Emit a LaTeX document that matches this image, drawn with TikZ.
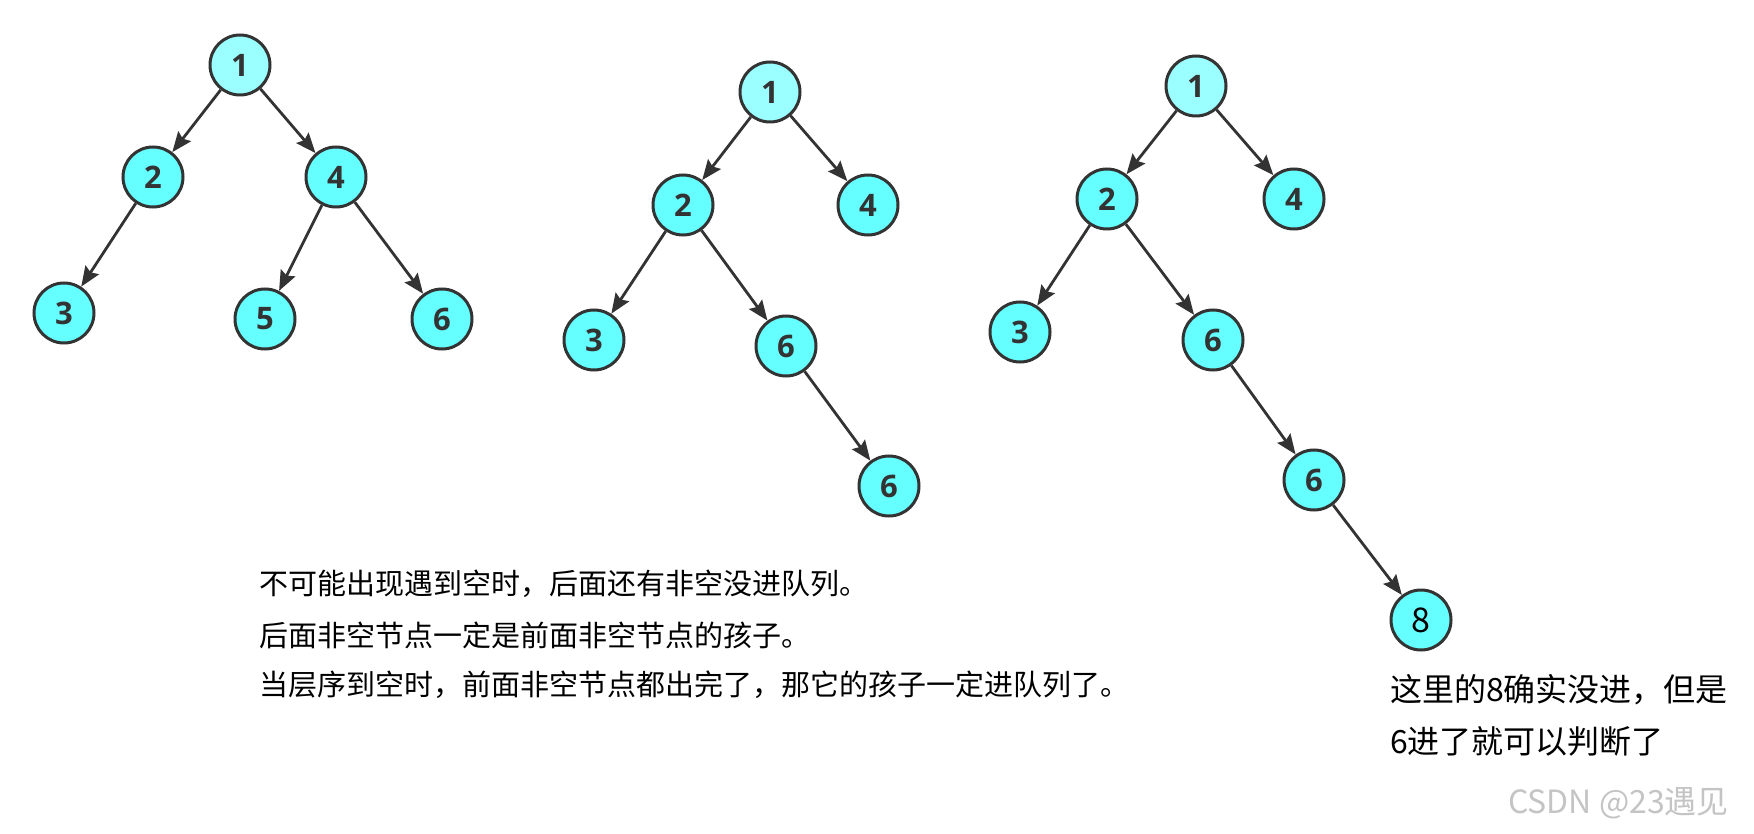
\documentclass[tikz,border=0pt]{standalone}
\usepackage{fontspec}
\setmainfont{Open Sans}
\newfontfamily\cjk{Noto Sans CJK SC}
\usetikzlibrary{arrows.meta}
\definecolor{nodecyan}{HTML}{66FFFF}
\definecolor{rootcyan}{HTML}{9CFFFF}
\definecolor{inkgrey}{HTML}{333333}
\definecolor{markgrey}{HTML}{C4C4C4}
\tikzset{
  treenode/.style={circle, draw=inkgrey, line width=3pt, fill=nodecyan, minimum size=60pt,
                   inner sep=0pt, text=inkgrey, font=\fontsize{31}{31}\selectfont\bfseries},
  rootnode/.style={treenode, fill=rootcyan},
  tarrow/.style={-{Stealth[length=20pt,width=16pt,inset=3pt]}, line width=2.8pt, color=inkgrey},
  notetext/.style={anchor=west, inner sep=0pt, text=black, font=\cjk\fontsize{29}{29}\selectfont}}

\begin{document}
\begin{tikzpicture}[x=1pt, y=-1pt]
  \useasboundingbox (0,0) rectangle (1754,834);
  % first tree
  \node[rootnode] (a1) at (240,65) {1};
  \node[treenode] (a2) at (153,177) {2};
  \node[treenode] (a4) at (336,177) {4};
  \node[treenode] (a3) at (64,313) {3};
  \node[treenode] (a5) at (265,319) {5};
  \node[treenode] (a6) at (442,319) {6};
  \draw[tarrow] (a1) -- (a2);
  \draw[tarrow] (a1) -- (a4);
  \draw[tarrow] (a2) -- (a3);
  \draw[tarrow] (a4) -- (a5);
  \draw[tarrow] (a4) -- (a6);
  % second tree
  \node[rootnode] (b1) at (770,92) {1};
  \node[treenode] (b2) at (683,205) {2};
  \node[treenode] (b4) at (868,205) {4};
  \node[treenode] (b3) at (594,340) {3};
  \node[treenode] (b6) at (786,346) {6};
  \node[treenode] (b7) at (889,486) {6};
  \draw[tarrow] (b1) -- (b2);
  \draw[tarrow] (b1) -- (b4);
  \draw[tarrow] (b2) -- (b3);
  \draw[tarrow] (b2) -- (b6);
  \draw[tarrow] (b6) -- (b7);
  % third tree
  \node[rootnode] (c1) at (1196,86) {1};
  \node[treenode] (c2) at (1107,199) {2};
  \node[treenode] (c4) at (1294,199) {4};
  \node[treenode] (c3) at (1020,332) {3};
  \node[treenode] (c6) at (1213,340) {6};
  \node[treenode] (c7) at (1314,480) {6};
  \node[treenode, font=\cjk\fontsize{34}{34}\selectfont, text=black] (c8) at (1421,620) {8};
  \draw[tarrow] (c1) -- (c2);
  \draw[tarrow] (c1) -- (c4);
  \draw[tarrow] (c2) -- (c3);
  \draw[tarrow] (c2) -- (c6);
  \draw[tarrow] (c6) -- (c7);
  \draw[tarrow] (c7) -- (c8);
  % notes
  \node[notetext] (n1) at (259,584) {不可能出现遇到空时，后面还有非空没进队列。};
  \node[notetext] (n2) at (259,635) {后面非空节点一定是前面非空节点的孩子。};
  \node[notetext] (n3) at (259,685) {当层序到空时，前面非空节点都出完了，那它的孩子一定进队列了。};
  \node[notetext, font=\cjk\fontsize{32}{32}\selectfont] (m1) at (1390,690) {这里的8确实没进，但是};
  \node[notetext, font=\cjk\fontsize{32}{32}\selectfont] (m2) at (1390,741) {6进了就可以判断了};
  \node[anchor=east, inner sep=0pt, text=markgrey, font=\cjk\fontsize{32}{32}\selectfont] (wm) at (1729,803) {CSDN @23遇见};
\end{tikzpicture}
\end{document}
